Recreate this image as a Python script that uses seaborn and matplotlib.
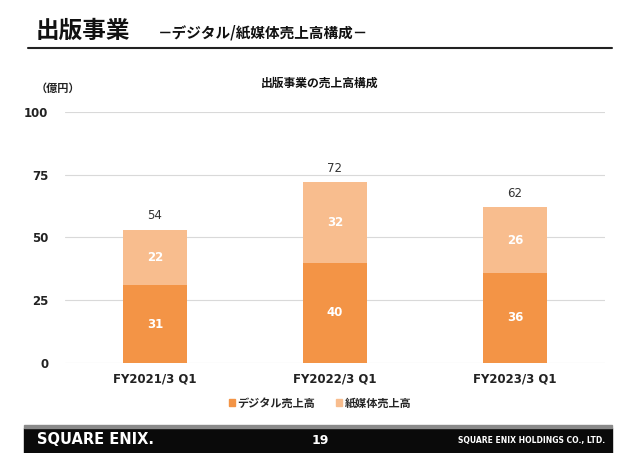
import matplotlib
matplotlib.use("Agg")
import matplotlib.pyplot as plt
import seaborn as sns
import pandas as pd
from matplotlib.patches import Rectangle

# data
periods = ["FY2021/3 Q1", "FY2022/3 Q1", "FY2023/3 Q1"]
digital = [31, 40, 36]
paper = [22, 32, 26]
totals = [54, 72, 62]
yticks = [0, 25, 50, 75, 100]
series_names = ["デジタル売上高", "紙媒体売上高"]

c_digital = "#F39446"
c_paper = "#F8BD8E"

sns.set_theme(style="white")
plt.rcParams['font.family'] = ['Noto Sans CJK JP', 'DejaVu Sans']

df = pd.DataFrame({"period": periods, "digital": digital, "paper": paper})
df["stack"] = df["digital"] + df["paper"]

fig = plt.figure(figsize=(6.4, 4.53), dpi=100)
ax = fig.add_axes([65/640, 1-363/453, 540/640, 251/453])

# light bar = full stack, dark bar drawn over it
sns.barplot(data=df, x="period", y="stack", color=c_paper, width=0.356,
            saturation=1, linewidth=0, ax=ax, zorder=2)
sns.barplot(data=df, x="period", y="digital", color=c_digital, width=0.356,
            saturation=1, linewidth=0, ax=ax, zorder=3)

ax.set_ylim(0, 100)
ax.set_xlim(-0.5, 2.5)
ax.set_yticks(yticks)
ax.set_yticklabels([str(t) for t in yticks], fontsize=8.5, fontweight="bold",
                   family="DejaVu Sans", color="#222222")
ax.set_xticks(range(3))
ax.set_xticklabels(periods, fontsize=8.5, fontweight="bold", family="DejaVu Sans",
                   color="#222222")
ax.tick_params(axis="both", length=0)
ax.tick_params(axis="y", pad=12)
ax.tick_params(axis="x", pad=7)
ax.set_xlabel("")
ax.set_ylabel("")
ax.yaxis.grid(True, color="#D9D9D9", linewidth=0.8, zorder=0)
ax.set_axisbelow(True)
for s in ax.spines.values():
    s.set_visible(False)

for i in range(3):
    ax.text(i, digital[i] / 2, str(digital[i]), ha="center", va="center",
            color="white", fontsize=8.5, fontweight="bold", family="DejaVu Sans", zorder=4)
    ax.text(i, digital[i] + paper[i] / 2, str(paper[i]), ha="center", va="center",
            color="white", fontsize=8.5, fontweight="bold", family="DejaVu Sans", zorder=4)
    ax.text(i, df["stack"][i] + 3, str(totals[i]), ha="center", va="bottom",
            color="#333333", fontsize=8.5, family="DejaVu Sans", zorder=4)

# titles
fig.text(36/640, 1-31/453, "出版事業", fontsize=17, fontweight="bold", va="center",
         color="#111111")
fig.text(158/640, 1-32/453, "－デジタル/紙媒体売上高構成－", fontsize=10.5,
         fontweight="bold", va="center", color="#111111")
fig.add_artist(plt.Line2D([28/640, 612/640], [1-48/453, 1-48/453], color="#222222",
                          linewidth=1.5))
fig.text(320/640, 1-83/453, "出版事業の売上高構成", fontsize=8.5, fontweight="bold",
         ha="center", va="center", color="#111111")
fig.text(58/640, 1-88/453, "（億円）", fontsize=8, fontweight="bold", ha="center",
         va="center", color="#222222")

# legend
handles = [Rectangle((0, 0), 1, 1, color=c_digital), Rectangle((0, 0), 1, 1, color=c_paper)]
fig.legend(handles, series_names, loc="center", bbox_to_anchor=(320/640, 1-403/453),
           ncol=2, frameon=False, handlelength=0.6, handleheight=0.6,
           handletextpad=0.2, columnspacing=1.8, prop={"weight": "bold", "size": 8})

# footer band
fig.add_artist(Rectangle((24/640, 0), 588/640, 25/453, transform=fig.transFigure,
                         color="#0A0A0A", zorder=0))
fig.add_artist(Rectangle((24/640, 25/453), 588/640, 3/453, transform=fig.transFigure,
                         color="#8A8A8A", zorder=0))
fig.text(37/640, 1-440/453, "SQUARE ENIX.", fontsize=10.5, fontweight="bold",
         family="DejaVu Sans", color="white", va="center")
fig.text(320/640, 1-440/453, "19", fontsize=9, fontweight="bold", family="DejaVu Sans",
         color="white", va="center", ha="center")
fig.text(605/640, 1-440/453, "SQUARE ENIX HOLDINGS CO., LTD.", fontsize=5.5,
         fontweight="bold", family="DejaVu Sans", color="white", va="center", ha="right")

fig.savefig("out.png", dpi=100)
